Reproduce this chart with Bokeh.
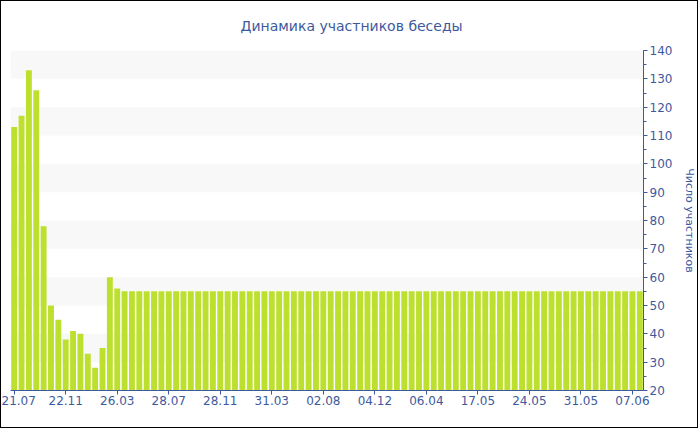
from bokeh.plotting import figure
from bokeh.models import FixedTicker, SingleIntervalTicker, Range1d, ColumnDataSource
from bokeh.embed import file_html
from bokeh.resources import INLINE

title_text = "Динамика участников беседы"
y_label = "Число участников"
tick_labels = ["21.07", "22.11", "26.03", "28.07", "28.11", "31.03", "02.08",
               "04.12", "06.04", "17.05", "24.05", "31.05", "07.06"]
label_every = 7
values = [113, 117, 133, 126, 78, 50, 45, 38, 41, 40, 33, 28, 35, 60, 56,
          55, 55, 55, 55, 55, 55, 55, 55, 55, 55, 55, 55, 55, 55, 55, 55,
          55, 55, 55, 55, 55, 55, 55, 55, 55, 55, 55, 55, 55, 55, 55, 55,
          55, 55, 55, 55, 55, 55, 55, 55, 55, 55, 55, 55, 55, 55, 55, 55,
          55, 55, 55, 55, 55, 55, 55, 55, 55, 55, 55, 55, 55, 55, 55, 55,
          55, 55, 55, 55, 55, 55, 55]
y_min, y_max = 20, 140

BLUE = "#3d5a9e"
GREEN = "#bde02f"
FONT = "DejaVu Sans"

idx = list(range(len(values)))
src = ColumnDataSource(dict(x=idx, top=values))

p = figure(width=698, height=428, output_backend="svg", toolbar_location=None,
           x_range=Range1d(-0.5, len(values) - 0.5), y_range=Range1d(y_min, y_max),
           y_axis_location="right", min_border_left=9, min_border_right=51,
           min_border_top=49, min_border_bottom=39, outline_line_color=None,
           background_fill_color="white", border_fill_color="white",
           styles={"border": "1px solid black"})

p.vbar(x="x", top="top", bottom=y_min, width=0.8, source=src,
       fill_color=GREEN, line_color=None)

p.title.text = title_text
p.title.align = "left"
p.title.vertical_align = "top"
p.title.offset = 230
p.title.standoff = 30
p.title.text_color = BLUE
p.title.text_font = FONT
p.title.text_font_size = "14px"
p.title.text_font_style = "normal"

# x axis
tick_pos = [i * label_every for i in range(len(tick_labels))]
p.xaxis.ticker = FixedTicker(ticks=tick_pos)
p.xaxis.major_label_overrides = {t: l for t, l in zip(tick_pos, tick_labels)}
p.xaxis.axis_line_color = BLUE
p.xaxis.major_tick_line_color = BLUE
p.xaxis.major_tick_out = 4
p.xaxis.major_tick_in = 0
p.xaxis.minor_tick_line_color = None
p.xaxis.major_label_text_color = BLUE
p.xaxis.major_label_text_font = FONT
p.xaxis.major_label_text_font_size = "12px"
p.xaxis.major_label_standoff = 1

# y axis (right)
p.yaxis.ticker = SingleIntervalTicker(interval=10, num_minor_ticks=2)
p.yaxis.axis_line_color = BLUE
p.yaxis.major_tick_line_color = BLUE
p.yaxis.minor_tick_line_color = BLUE
p.yaxis.major_tick_out = 4
p.yaxis.major_tick_in = 0
p.yaxis.minor_tick_out = 3
p.yaxis.minor_tick_in = 0
p.yaxis.major_label_text_color = BLUE
p.yaxis.major_label_text_font = FONT
p.yaxis.major_label_text_font_size = "12px"
p.yaxis.major_label_standoff = 2
p.yaxis.axis_label = y_label
p.yaxis.axis_label_text_color = BLUE
p.yaxis.axis_label_text_font = FONT
p.yaxis.axis_label_text_font_size = "11px"
p.yaxis.axis_label_text_font_style = "normal"
p.yaxis.axis_label_standoff = 8

p.xgrid.grid_line_color = None
p.ygrid.ticker = SingleIntervalTicker(interval=10)
p.ygrid.grid_line_color = None
p.ygrid.band_fill_color = "#f8f8f8"
p.ygrid.band_fill_alpha = 1.0

open("out.html", "w").write(file_html(p, INLINE))
